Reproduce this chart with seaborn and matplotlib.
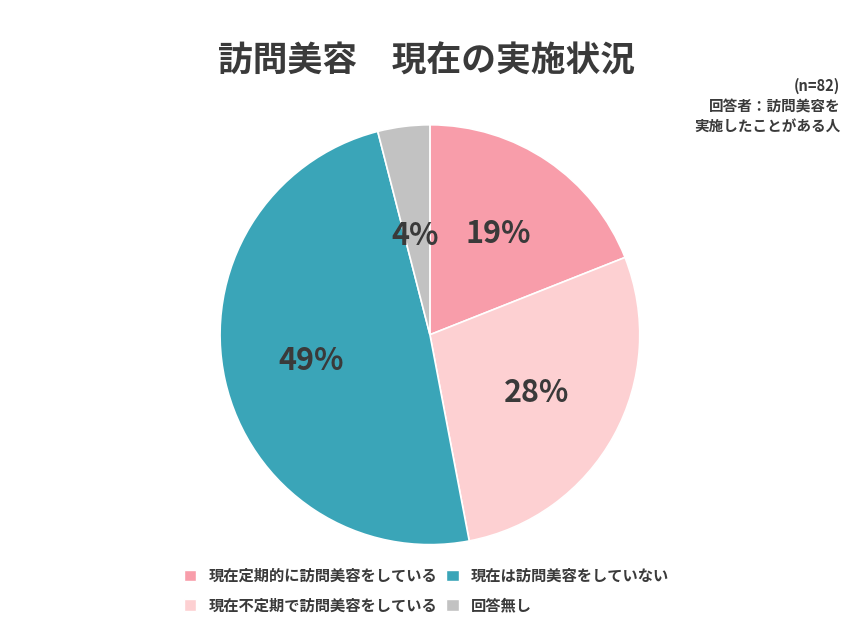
import matplotlib
matplotlib.use("Agg")
import matplotlib.pyplot as plt
import seaborn as sns
from matplotlib.patches import Patch

sns.set_theme(style="white")
plt.rcParams['font.family'] = ['Noto Sans CJK JP', 'DejaVu Sans']

labels = ["現在定期的に訪問美容をしている", "現在不定期で訪問美容をしている", "現在は訪問美容をしていない", "回答無し"]
values = [19, 28, 49, 4]
colors = ["#F89DAA", "#FDD0D2", "#3AA5B8", "#C2C2C2"]

fig = plt.figure(figsize=(8.53, 6.4), dpi=100)
ax = fig.add_axes([0.258, 0.149, 0.492, 0.656])
wedges, texts, autotexts = ax.pie(values, colors=colors, startangle=90, counterclock=False,
       autopct=lambda p: f"{p:.0f}%", pctdistance=0.58,
       wedgeprops=dict(edgecolor="white", linewidth=1.2),
       textprops=dict(fontsize=22, fontweight="bold", color="#3a3a3a"))
autotexts[3].set_position((-0.07, 0.47))
ax.set_xlim(-1, 1); ax.set_ylim(-1, 1); ax.set_aspect("auto")
ax.axis("off")

fig.text(0.5, 0.905, "訪問美容　現在の実施状況", ha="center", va="center", fontsize=25, fontweight="bold", color="#3a3a3a")
fig.text(0.985, 0.835, "(n=82)\n回答者：訪問美容を\n実施したことがある人", ha="right", va="center", fontsize=10.5, fontweight="bold", color="#3a3a3a", linespacing=1.3)

handles = [Patch(facecolor=c) for c in colors]
fig.legend(handles, labels, loc="center", bbox_to_anchor=(0.5, 0.077), ncol=2, frameon=False,
           fontsize=11, handlelength=0.8, handleheight=0.8, columnspacing=0.6, labelspacing=0.9,
           prop=dict(family=['Noto Sans CJK JP', 'DejaVu Sans'], size=11, weight="bold"))
for t in fig.legends[0].get_texts():
    t.set_color("#3a3a3a")
fig.savefig("out.png", dpi=100)
